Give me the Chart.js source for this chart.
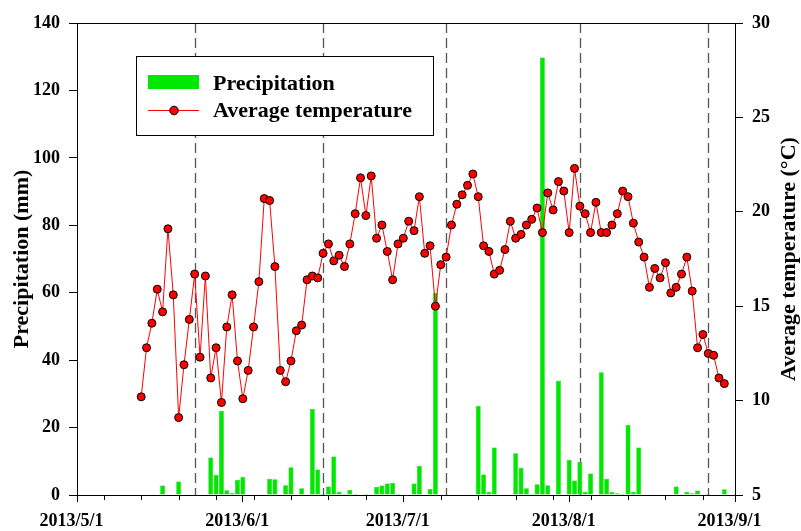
<!DOCTYPE html>
<html>
<head>
<meta charset="utf-8">
<script src="https://cdn.jsdelivr.net/npm/chart.js@4.4.1/dist/chart.umd.min.js"></script>
<style>
  html, body { margin: 0; padding: 0; background: #fff; }
  #wrap { width: 801px; height: 531px; }
</style>
</head>
<body>
<div id="wrap"><canvas id="chart" width="801" height="531"></canvas></div>
<script>
// ---- data ----
const monthLabels = ['2013/5/1', '2013/6/1', '2013/7/1', '2013/8/1', '2013/9/1'];
const firstWeekTick = '2013/5/6';

// daily precipitation (mm), rain days only
const precipDates = [
  '2013/5/17', '2013/5/20', '2013/5/26', '2013/5/27', '2013/5/28', '2013/5/29', '2013/5/30', '2013/5/31',
  '2013/6/1', '2013/6/6', '2013/6/7', '2013/6/9', '2013/6/10', '2013/6/12', '2013/6/14', '2013/6/15',
  '2013/6/16', '2013/6/17', '2013/6/18', '2013/6/19', '2013/6/20', '2013/6/21', '2013/6/22', '2013/6/24',
  '2013/6/26', '2013/6/27', '2013/6/28', '2013/6/29', '2013/6/30', '2013/7/3', '2013/7/4', '2013/7/6',
  '2013/7/7', '2013/7/15', '2013/7/16', '2013/7/17', '2013/7/18', '2013/7/22', '2013/7/23', '2013/7/24',
  '2013/7/25', '2013/7/26', '2013/7/27', '2013/7/28', '2013/7/30', '2013/8/1', '2013/8/2', '2013/8/3',
  '2013/8/4', '2013/8/5', '2013/8/7', '2013/8/8', '2013/8/9', '2013/8/10', '2013/8/11', '2013/8/12',
  '2013/8/13', '2013/8/14', '2013/8/21', '2013/8/23', '2013/8/24', '2013/8/25', '2013/8/27', '2013/8/30'
];
const precipValues = [
  2.8, 4.0, 11.1, 6.0, 25.0, 1.4, 0.6, 4.5,
  5.4, 4.8, 4.7, 2.9, 8.2, 2.0, 25.5, 7.6,
  0.4, 2.5, 11.4, 1.0, 0.4, 1.5, 0.3, 0.3,
  2.4, 2.8, 3.4, 3.6, 0.3, 3.4, 8.6, 1.8,
  60.0, 26.5, 6.1, 0.9, 14.1, 12.4, 8.1, 2.0,
  0.3, 3.2, 129.8, 2.9, 33.9, 10.4, 4.3, 9.8,
  1.0, 6.4, 36.4, 4.8, 0.9, 0.5, 0.3, 20.8,
  0.9, 14.1, 2.5, 1.0, 0.5, 1.3, 0.3, 1.7
];

// daily mean air temperature (°C), one value per day from tempStartDate
const tempStartDate = '2013/5/13';
const tempValues = [
  10.2, 12.8, 14.1, 15.9, 14.7, 19.1, 15.6, 9.1, 11.9, 14.3,
  16.7, 12.3, 16.6, 11.2, 12.8, 9.9, 13.9, 15.6, 12.1, 10.1,
  11.6, 13.9, 16.3, 20.7, 20.6, 17.1, 11.6, 11.0, 12.1, 13.7,
  14.0, 16.4, 16.6, 16.5, 17.8, 18.3, 17.4, 17.7, 17.1, 18.3,
  19.9, 21.8, 19.8, 21.9, 18.6, 19.3, 17.9, 16.4, 18.3, 18.6,
  19.5, 19.0, 20.8, 17.8, 18.2, 15.0, 17.2, 17.6, 19.3, 20.4,
  20.9, 21.4, 22.0, 20.8, 18.2, 17.9, 16.7, 16.9, 18.0, 19.5,
  18.6, 18.8, 19.3, 19.6, 20.2, 18.9, 21.0, 20.1, 21.6, 21.1,
  18.9, 22.3, 20.3, 19.9, 18.9, 20.5, 18.9, 18.9, 19.3, 19.9,
  21.1, 20.8, 19.4, 18.4, 17.6, 16.0, 17.0, 16.5, 17.3, 15.7,
  16.0, 16.7, 17.6, 15.8, 12.8, 13.5, 12.5, 12.4, 11.2, 10.9
];

// growth stage boundaries (dashed lines)
const stageDates = ['2013/5/23', '2013/6/16', '2013/7/9', '2013/8/3', '2013/8/27'];

// ---- helpers ----
const DAY = 86400000;
const origin = Date.UTC(2013, 4, 1);
function dayOf(s) {
  const [y, m, d] = s.split('/').map(Number);
  return Math.round((Date.UTC(y, m - 1, d) - origin) / DAY);
}
const monthDays = monthLabels.map(dayOf);
const endDay = monthDays[monthDays.length - 1];

const weekDays = [];
for (let d = dayOf(firstWeekTick); d <= endDay; d += 7) weekDays.push(d);
const tickList = [...new Set([...monthDays, ...weekDays])].sort((a, b) => a - b);

const precipPoints = precipDates.map((s, i) => ({ x: dayOf(s), y: precipValues[i] }));
const tempStart = dayOf(tempStartDate);
const tempPoints = tempValues.map((v, i) => ({ x: tempStart + i, y: v }));
const stageDays = stageDates.map(dayOf);

const SERIF = '"Liberation Serif", "Times New Roman", Times, serif';
const tickFont = { family: SERIF, size: 18, weight: 'bold' };
const GREEN = '#00e800';
const RED = '#ff0000';

// ---- decorations: frame top, weekly ticks, stage lines, legend box, axis titles ----
const decor = {
  id: 'decor',
  beforeDatasetsDraw(chart) {
    const { ctx, chartArea: a, scales } = chart;
    ctx.save();
    ctx.strokeStyle = '#555';
    ctx.lineWidth = 1.3;
    ctx.setLineDash([10, 5]);
    stageDays.forEach(d => {
      const x = Math.round(scales.x.getPixelForValue(d)) + 0.5;
      ctx.beginPath();
      ctx.moveTo(x, a.top);
      ctx.lineTo(x, a.bottom);
      ctx.stroke();
    });
    ctx.restore();
  },
  afterDraw(chart) {
    const { ctx, chartArea: a, scales } = chart;
    ctx.save();
    ctx.strokeStyle = '#000';
    ctx.lineWidth = 1;
    // top edge of the frame
    ctx.beginPath();
    ctx.moveTo(a.left, a.top + 0.5);
    ctx.lineTo(a.right, a.top + 0.5);
    ctx.stroke();
    // shorter weekly ticks under the date axis
    weekDays.filter(d => !monthDays.includes(d)).forEach(d => {
      const x = Math.round(scales.x.getPixelForValue(d)) + 0.5;
      ctx.beginPath();
      ctx.moveTo(x, a.bottom);
      ctx.lineTo(x, a.bottom + 5);
      ctx.stroke();
    });

    // legend
    const lx = a.left + 59, ly = a.top + 33;
    ctx.fillStyle = '#fff';
    ctx.fillRect(lx, ly, 297, 79);
    ctx.strokeRect(lx + 0.5, ly + 0.5, 297, 79);
    ctx.fillStyle = GREEN;
    ctx.fillRect(lx + 12, ly + 19, 51, 14);
    ctx.strokeStyle = RED;
    ctx.beginPath();
    ctx.moveTo(lx + 12, ly + 54.5);
    ctx.lineTo(lx + 63, ly + 54.5);
    ctx.stroke();
    ctx.beginPath();
    ctx.arc(lx + 38, ly + 54.5, 4.3, 0, Math.PI * 2);
    ctx.fillStyle = RED;
    ctx.fill();
    ctx.strokeStyle = '#000';
    ctx.stroke();
    ctx.fillStyle = '#000';
    ctx.font = 'bold 22px ' + SERIF;
    ctx.textAlign = 'left';
    ctx.textBaseline = 'alphabetic';
    ctx.fillText('Precipitation', lx + 77, ly + 34);
    ctx.fillText('Average temperature', lx + 77, ly + 61);

    // axis titles, both reading bottom to top
    const cy = (a.top + a.bottom) / 2;
    ctx.textAlign = 'center';
    ctx.textBaseline = 'middle';
    [[22, 'Precipitation (mm)'], [789, 'Average temperature (°C)']].forEach(([x, t]) => {
      ctx.save();
      ctx.translate(x, cy);
      ctx.rotate(-Math.PI / 2);
      ctx.fillText(t, 0, 0);
      ctx.restore();
    });
    ctx.restore();
  }
};

new Chart(document.getElementById('chart'), {
  type: 'bar',
  data: {
    datasets: [
      {
        type: 'line',
        label: 'Average temperature',
        data: tempPoints,
        yAxisID: 'y1',
        borderColor: RED,
        borderWidth: 1,
        tension: 0,
        pointRadius: 4,
        pointBorderWidth: 1,
        pointBackgroundColor: RED,
        pointBorderColor: '#000',
        order: 0
      },
      {
        type: 'bar',
        label: 'Precipitation',
        data: precipPoints,
        yAxisID: 'y',
        backgroundColor: GREEN,
        borderColor: '#00c800',
        borderWidth: 0.5,
        barPercentage: 0.92,
        categoryPercentage: 1.0,
        order: 1
      }
    ]
  },
  options: {
    responsive: false,
    animation: false,
    devicePixelRatio: 1,
    layout: { padding: { top: 23, left: 0, right: 0, bottom: 0 } },
    plugins: { legend: { display: false }, tooltip: { enabled: false } },
    scales: {
      x: {
        type: 'linear',
        min: 0,
        max: endDay,
        offset: false,
        afterBuildTicks: s => { s.ticks = tickList.map(v => ({ value: v })); },
        afterFit: s => { s.height = 36; },
        ticks: {
          autoSkip: false,
          maxRotation: 0,
          padding: 9,
          labelOffset: -5.5,
          color: '#000',
          font: tickFont,
          callback: v => {
            const i = monthDays.indexOf(v);
            return i >= 0 ? monthLabels[i] : '';
          }
        },
        grid: {
          display: true,
          drawOnChartArea: false,
          drawTicks: true,
          tickLength: 7,
          offset: false,
          color: '#000',
          tickColor: c => (c.tick && monthDays.includes(c.tick.value)) ? '#000' : 'rgba(0,0,0,0)'
        },
        border: { display: true, color: '#000', width: 1 }
      },
      y: {
        position: 'left',
        min: 0,
        max: 140,
        afterFit: s => { s.width = 77; },
        ticks: { stepSize: 20, padding: 9, color: '#000', font: tickFont },
        grid: { display: true, drawOnChartArea: false, drawTicks: true, tickLength: 8, color: '#000' },
        border: { display: true, color: '#000', width: 1 }
      },
      y1: {
        position: 'right',
        min: 5,
        max: 30,
        afterFit: s => { s.width = 66; },
        ticks: { stepSize: 5, padding: 9, color: '#000', font: tickFont },
        grid: { display: true, drawOnChartArea: false, drawTicks: true, tickLength: 8, color: '#000' },
        border: { display: true, color: '#000', width: 1 }
      }
    }
  },
  plugins: [decor]
});
</script>
</body>
</html>
